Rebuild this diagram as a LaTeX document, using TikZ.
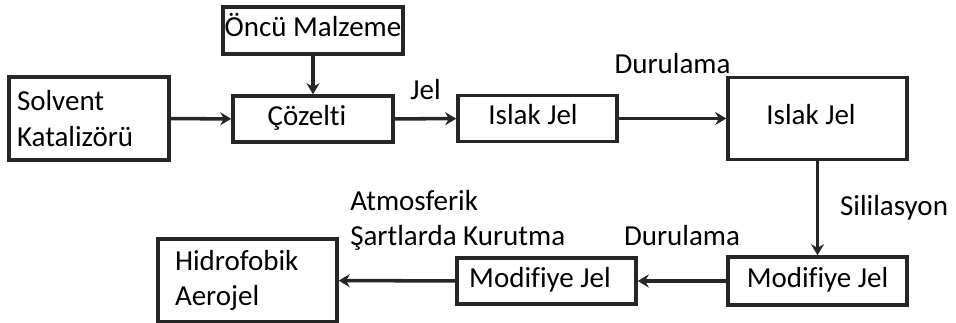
\documentclass[tikz,border=0pt]{standalone}
\usepackage{fontspec}
\setmainfont{Carlito}[Ligatures=NoCommon]
\usetikzlibrary{arrows.meta}

\begin{document}
\begin{tikzpicture}[x=0.02cm, y=-0.02cm,
    font=\fontsize{16.5}{20}\selectfont,
    kutu/.style={draw=black!85, line width=2pt, inner sep=0pt, minimum height=0.92cm},
    tekkutu/.style={kutu, text height=0.36cm, text depth=0.1cm},
    solkutu/.style={kutu, align=left, inner xsep=0.34cm, text width=2.9cm},
    ok/.style={draw=black!85, line width=2pt, -{Stealth[length=0.22cm, width=0.26cm]}}]
    \useasboundingbox (0, 0) rectangle (956, 323);
    % ust sira
    \node[tekkutu, minimum width=3.6cm, minimum height=0.94cm] (oncu) at (313, 30.5) {Öncü Malzeme};
    \node[solkutu, inner xsep=0.16cm, text width=2.88cm, minimum height=1.66cm] (solvent) at (89, 118.5) {Solvent\\Katalizörü};
    \node[tekkutu, minimum width=3.2cm] (cozelti) at (313, 119) {Çözelti\kern0.24cm};
    \node[tekkutu, minimum width=3.18cm] (islak1) at (537.5, 118.5) {Islak Jel\kern0.18cm};
    \node[tekkutu, minimum width=3.58cm, minimum height=1.64cm] (islak2) at (817.5, 118.5) {Islak Jel\kern0.26cm};
    % alt sira
    \node[tekkutu, minimum width=3.58cm, minimum height=0.96cm] (modif2) at (817.5, 281) {Modifiye Jel};
    \node[tekkutu, minimum width=3.58cm] (modif1) at (546.5, 281) {Modifiye Jel\kern0.26cm};
    \node[solkutu, minimum width=3.58cm, minimum height=1.66cm] (hidro) at (247.5, 280.5) {Hidrofobik\\Aerojel};
    % oklar
    \draw[ok] (solvent) -- (cozelti);
    \draw[ok] (oncu) -- (cozelti);
    \draw[ok] (cozelti) -- node[midway, yshift=0.58cm] {Jel} (islak1);
    \draw[ok] (islak1) -- node[midway, yshift=1.1cm] {Durulama} (islak2);
    \draw[ok] (islak2) -- node[midway, right=0.3cm] {Sililasyon} (modif2);
    \draw[ok] (modif2) -- node[midway, yshift=0.9cm] {Durulama} (modif1);
    \draw[ok] (modif1) -- node[at end, align=left, xshift=2.38cm, yshift=1.21cm] {Atmosferik\\Şartlarda Kurutma} (hidro);
\end{tikzpicture}
\end{document}
